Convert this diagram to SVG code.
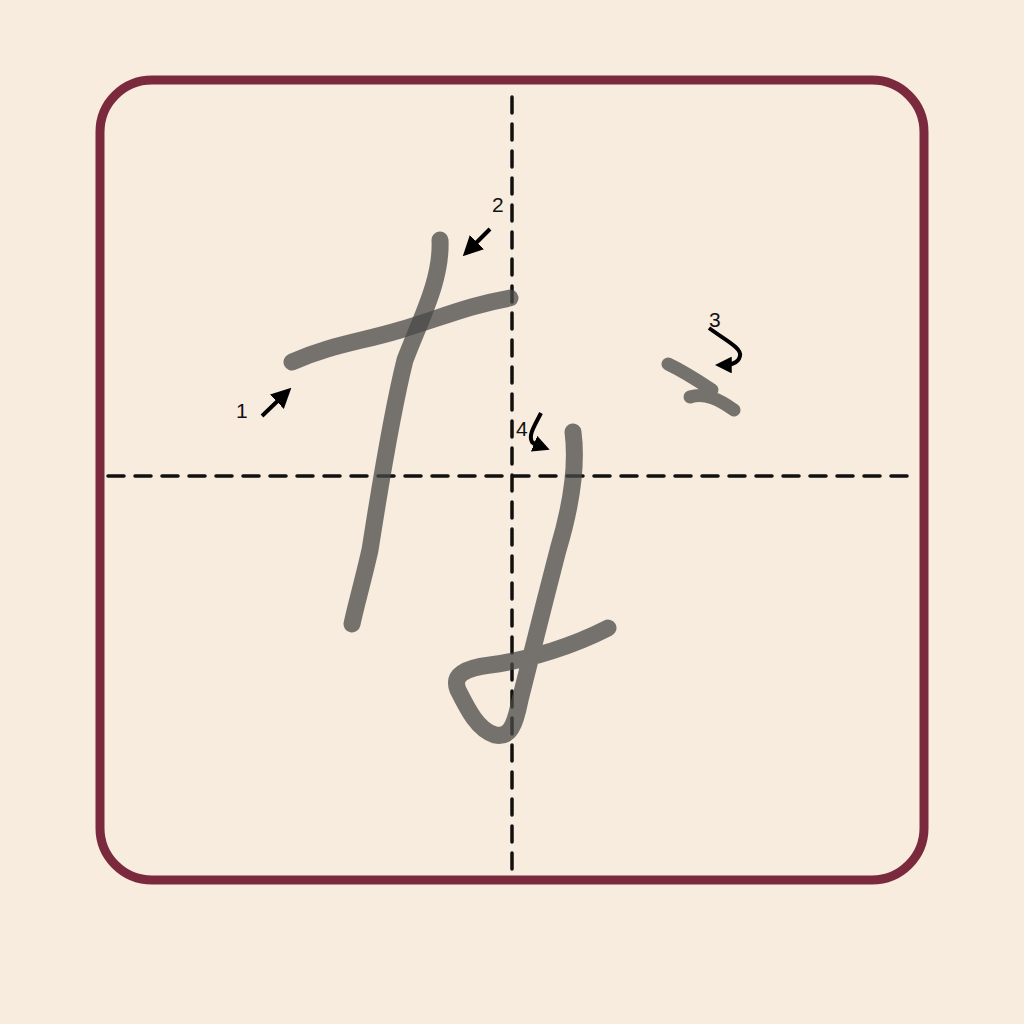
<svg xmlns="http://www.w3.org/2000/svg" width="1024" height="1024" viewBox="0 0 1024 1024">
<defs>
<style>
.ink{fill:none;stroke:#4a4a48;stroke-opacity:0.75;stroke-linecap:round;stroke-linejoin:round}
.guide{fill:none;stroke:#111;stroke-width:3.5;stroke-dasharray:16 11;stroke-linecap:round}
.arr{fill:none;stroke:#000;stroke-width:4}
.lbl{font-family:"Liberation Sans",Arial,sans-serif;font-size:21px;fill:#111}
</style>
<marker id="ah" viewBox="0 0 10 10" refX="7" refY="5" markerWidth="5" markerHeight="5" orient="auto" markerUnits="strokeWidth">
<path d="M0,0 L10,5 L0,10 z" fill="#000"/>
</marker>
<marker id="ahs" viewBox="0 0 10 10" refX="7" refY="5" markerWidth="4.2" markerHeight="4.2" orient="auto" markerUnits="strokeWidth">
<path d="M0,0 L10,5 L0,10 z" fill="#000"/>
</marker>
</defs>
<rect width="1024" height="1024" fill="#f8ecde"/>
<g id="frame">
<rect x="100" y="80" width="824" height="800" rx="52" ry="52" fill="none" stroke="#7a2a3c" stroke-width="9"/>
</g>
<g id="guides">
<line class="guide" x1="512" y1="97" x2="512" y2="874"/>
<line class="guide" x1="108" y1="476" x2="918" y2="476"/>
</g>
<g id="strokes">
<path id="stroke1" class="ink" stroke-width="17" d="M292,362 C330,345 360,342 400,330 C440,318 470,305 510,298"/>
<path id="stroke2" class="ink" stroke-width="17" d="M440,240 C442,280 420,320 405,360 C390,420 378,500 370,550 C362,585 356,605 352,624"/>
<path id="stroke3" class="ink" stroke-width="13" d="M668,364 C685,372 700,382 712,390 M690,397 C705,392 720,400 734,410"/>
<path id="stroke4" class="ink" stroke-width="17" d="M573,432 C578,470 570,510 558,550 C545,600 530,660 520,700 C515,725 510,738 495,735 C478,730 468,710 458,690 C452,675 465,668 490,665 C530,660 575,645 608,628"/>
</g>
<g id="connectors">
<line class="arr" x1="262" y1="416" x2="287" y2="392" marker-end="url(#ah)"/>
<line class="arr" x1="490" y1="229" x2="467" y2="252" marker-end="url(#ah)"/>
<path class="arr" d="M709,328 C725,340 742,348 740,356 C738,364 730,365 720,365" marker-end="url(#ahs)"/>
<path class="arr" d="M541,413 C535,425 528,435 532,442 C536,446 540,446 545,448" marker-end="url(#ahs)"/>
</g>
<g id="labels">
<text class="lbl" x="236" y="418">1</text>
<text class="lbl" x="492" y="212">2</text>
<text class="lbl" x="709" y="327">3</text>
<text class="lbl" x="516" y="436">4</text>
</g>
</svg>
